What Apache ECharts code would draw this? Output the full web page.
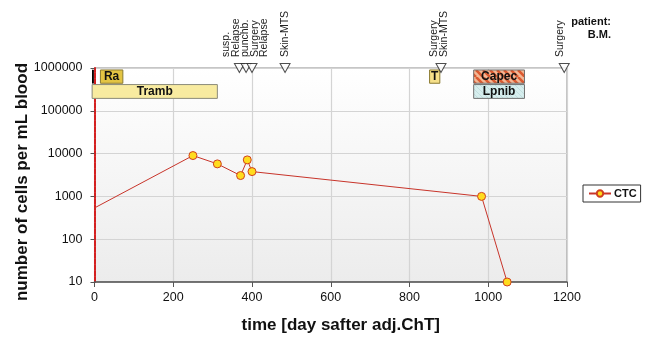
<!DOCTYPE html>
<html><head><meta charset="utf-8">
<script src="https://cdn.jsdelivr.net/npm/echarts@6/dist/echarts.min.js"></script>
<style>html,body{margin:0;padding:0;background:#fff}#c{width:645px;height:339px}</style>
</head><body><div id="c"></div>
<script>
// ---- data ----
const ctcDays   = [-10, 250, 312, 371, 388, 400, 983, 1048];
const ctcValues = [480, 9000, 5750, 3070, 7130, 3800, 1000, 10];

const eventDays   = [368, 385, 400, 484, 880, 1193];
const eventLabels = ['susp.\nRelapse', 'punchb.\nSurgery', 'Relapse', 'Skin-MTS', 'Surgery\nSkin-MTS', 'Surgery'];

const treatNames = ['', 'Ra', 'Tramb', 'T', 'Capec', 'Lpnib'];
const treatStart = [-5, 15, -6, 851, 963, 963];
const treatEnd   = [-3, 72, 312, 877, 1092, 1092];
const treatTop   = [900000, 900000, 410000, 900000, 900000, 410000];
const treatBot   = [440000, 440000, 195000, 440000, 440000, 195000];

const yTicks = [10, 100, 1000, 10000, 100000, 1000000];
const xTicks = [0, 200, 400, 600, 800, 1000, 1200];

// ---- styles ----
const FONT = 'Liberation Sans, Arial, Helvetica, sans-serif';
function stripes(bg, fg, size, w) {
  const c = document.createElement('canvas');
  c.width = size; c.height = size;
  const g = c.getContext('2d');
  g.fillStyle = bg; g.fillRect(0, 0, size, size);
  g.strokeStyle = fg; g.lineWidth = w;
  g.beginPath();
  for (let k = -2; k <= 2; k++) { g.moveTo(k * size, 0); g.lineTo(k * size + size, size); }
  g.stroke();
  return c;
}
const treatStyle = [
  { fill: '#222222', stroke: '#000000' },
  { fill: '#e3c443', stroke: '#8a7a30' },
  { fill: '#f8eba0', stroke: '#8a8a7a' },
  { fill: '#f6e08a', stroke: '#8a7a30' },
  { fill: { image: stripes('#f3b896', '#dc5a30', 7, 2.6), repeat: 'repeat' }, stroke: '#707070' },
  { fill: { image: stripes('#d6eeee', '#c2dede', 5, 1), repeat: 'repeat' }, stroke: '#707070' }
];
const labelShift = [-8, 4, 12, 0, -2, -4];

const chart = echarts.init(document.getElementById('c'), null, { renderer: 'canvas' });

const ctcData = ctcDays.map((d, i) => i === 0
  ? { value: [d, ctcValues[i]], symbol: 'none' }
  : [d, ctcValues[i]]);

const eventData = eventDays.map(d => [d, yTicks[yTicks.length - 1]]);

const treatData = treatNames.map((n, i) => [treatStart[i], treatEnd[i], treatTop[i], treatBot[i], i]);

const option = {
  animation: false,
  textStyle: { fontFamily: FONT },
  grid: {
    left: 94.5, right: 78, top: 68, bottom: 56, show: true,
    borderColor: '#8c8c8c', borderWidth: 1,
    backgroundColor: new echarts.graphic.LinearGradient(0, 0, 0, 1, [
      { offset: 0, color: '#ffffff' }, { offset: 1, color: '#ececec' }])
  },
  legend: {
    left: 583, top: 185, orient: 'vertical',
    padding: [3, 4, 3, 5], itemGap: 0, itemWidth: 22, itemHeight: 8,
    borderColor: '#333', borderWidth: 1, backgroundColor: '#fff',
    textStyle: { fontSize: 11, fontWeight: 'bold', color: '#111', fontFamily: FONT, padding: [0, 0, 0, -2] },
    data: ['CTC']
  },
  xAxis: {
    type: 'value', min: xTicks[0], max: xTicks[xTicks.length - 1], interval: 200,
    name: 'time [day safter adj.ChT]', nameLocation: 'middle', nameGap: 35, nameMoveOverlap: false,
    nameTextStyle: { fontSize: 17, fontWeight: 'bold', color: '#111', fontFamily: FONT, padding: [0, 0, 0, 20] },
    axisLine: { lineStyle: { color: '#555', width: 1.5 } },
    axisTick: { length: 5, lineStyle: { color: '#555' } },
    axisLabel: { fontSize: 12.5, color: '#111', margin: 9, fontFamily: FONT, formatter: v => String(Math.round(v)) },
    splitLine: { lineStyle: { color: '#d4d4d4', width: 1.2 } }
  },
  yAxis: {
    type: 'log', logBase: 10, min: yTicks[0], max: yTicks[yTicks.length - 1],
    name: 'number of cells per mL blood', nameLocation: 'middle', nameGap: 64, nameRotate: 90, nameMoveOverlap: false,
    nameTextStyle: { fontSize: 17, fontWeight: 'bold', color: '#111', fontFamily: FONT, padding: [0, 14, 0, 0] },
    axisLine: { lineStyle: { color: '#d42020', width: 2, type: [5, 1] } },
    axisTick: { length: 4, lineStyle: { color: '#555' } },
    axisLabel: { fontSize: 12.5, color: '#111', margin: 12, fontFamily: FONT, formatter: v => String(Math.round(v)) },
    splitLine: { lineStyle: { color: '#d4d4d4', width: 1.2 } }
  },
  graphic: [{
    type: 'text', x: 611, y: 15,
    style: { text: 'patient:\nB.M.', align: 'right', fontSize: 11, fontWeight: 'bold', fill: '#111', lineHeight: 13, fontFamily: FONT }
  }],
  series: [
    {
      name: 'CTC', type: 'line', data: ctcData, clip: false,
      symbol: 'circle', symbolSize: 8,
      lineStyle: { color: '#c8342a', width: 1 },
      itemStyle: { color: '#ffdc1e', borderColor: '#d0401e', borderWidth: 1 },
      z: 5
    },
    {
      name: 'events', type: 'scatter', data: eventData, clip: false,
      symbol: 'triangle', symbolRotate: 180, symbolSize: [10, 9],
      itemStyle: { color: '#ffffff', borderColor: '#222', borderWidth: 1 },
      z: 6
    },
    {
      name: 'treat', type: 'custom', data: treatData, clip: false,
      encode: { x: [0, 1], y: [2, 3] },
      renderItem: function (params, api) {
        const i = api.value(4);
        const p0 = api.coord([api.value(0), api.value(2)]);
        const p1 = api.coord([api.value(1), api.value(3)]);
        const st = treatStyle[i];
        return {
          type: 'rect',
          shape: { x: p0[0], y: p0[1], width: p1[0] - p0[0], height: p1[1] - p0[1] },
          style: { fill: st.fill, stroke: st.stroke, lineWidth: 1 },
          textContent: {
            style: { text: treatNames[i], fontSize: 12, fontWeight: 'bold', fill: '#111', fontFamily: FONT }
          },
          textConfig: { position: 'inside' }
        };
      },
      z: 4
    }
  ]
};
chart.setOption(option);

// event labels placed at their markers via the axis scales
const ev = eventDays.map((d, i) => {
  const p = chart.convertToPixel({ xAxisIndex: 0, yAxisIndex: 0 }, [d, yTicks[yTicks.length - 1]]);
  return {
    type: 'text', x: p[0] + labelShift[i], y: p[1] - 11, rotation: Math.PI / 2,
    style: { text: eventLabels[i], align: 'left', verticalAlign: 'middle', fontSize: 10.5, fill: '#222', lineHeight: 10, fontFamily: FONT }
  };
});
option.graphic = option.graphic.concat(ev);
chart.setOption(option, true);
</script></body></html>
